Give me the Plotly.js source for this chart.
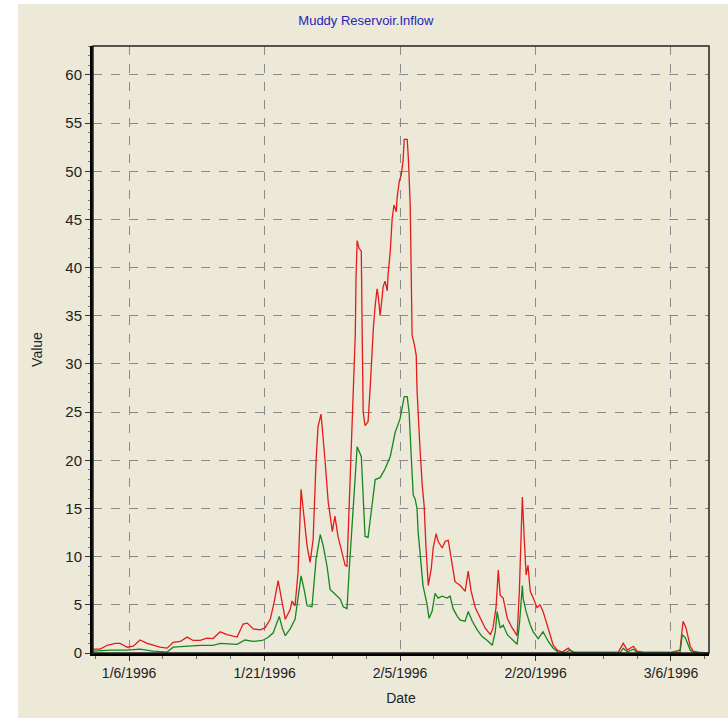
<!DOCTYPE html>
<html>
<head>
<meta charset="utf-8">
<script src="https://cdn.plot.ly/plotly-3.0.1.min.js"></script>
<style>
  html, body { margin: 0; padding: 0; background: #ffffff; width: 728px; height: 719px; overflow: hidden; }
  #chart { position: absolute; left: 18px; top: 4px; width: 710px; height: 714px; }
</style>
</head>
<body>
<div id="chart"></div>
<script>
// ---- data ----
const chartTitle = 'Muddy Reservoir.Inflow';
const xTitle = 'Date';
const yTitle = 'Value';

const redDates = [
 '1996-01-02 00:00','1996-01-02 19:00','1996-01-03 14:00','1996-01-04 11:00','1996-01-05 00:00','1996-01-05 19:00',
 '1996-01-06 11:00','1996-01-07 05:00','1996-01-08 00:00','1996-01-08 16:00','1996-01-09 10:00','1996-01-10 05:00',
 '1996-01-10 21:00','1996-01-11 16:00','1996-01-12 10:00','1996-01-13 02:00','1996-01-13 21:00','1996-01-14 15:00',
 '1996-01-15 07:00','1996-01-16 02:00','1996-01-16 20:00','1996-01-17 23:00','1996-01-18 15:00','1996-01-19 02:00',
 '1996-01-19 18:00','1996-01-20 12:00','1996-01-21 01:00','1996-01-21 15:00','1996-01-22 01:00','1996-01-22 12:00',
 '1996-01-22 23:00','1996-01-23 07:00','1996-01-23 20:00','1996-01-24 01:00','1996-01-24 09:00','1996-01-24 17:00',
 '1996-01-25 01:00','1996-01-25 06:00','1996-01-25 17:00','1996-01-26 01:00','1996-01-26 09:00','1996-01-26 17:00',
 '1996-01-26 22:00','1996-01-27 06:00','1996-01-27 12:00','1996-01-27 17:00','1996-01-28 01:00','1996-01-28 12:00',
 '1996-01-28 19:00','1996-01-29 03:00','1996-01-29 14:00','1996-01-29 22:00','1996-01-30 03:00','1996-01-30 09:00',
 '1996-01-30 14:00','1996-01-30 19:00','1996-01-31 01:00','1996-01-31 03:00','1996-01-31 06:00','1996-01-31 11:00',
 '1996-01-31 17:00','1996-01-31 19:00','1996-01-31 22:00','1996-02-01 03:00','1996-02-01 11:00','1996-02-01 17:00',
 '1996-02-01 22:00','1996-02-02 01:00','1996-02-02 06:00','1996-02-02 11:00','1996-02-02 14:00','1996-02-02 19:00',
 '1996-02-03 00:00','1996-02-03 03:00','1996-02-03 08:00','1996-02-03 14:00','1996-02-03 16:00','1996-02-03 22:00',
 '1996-02-04 03:00','1996-02-04 08:00','1996-02-04 14:00','1996-02-04 16:00','1996-02-04 22:00','1996-02-05 03:00',
 '1996-02-05 08:00','1996-02-05 11:00','1996-02-05 19:00','1996-02-05 22:00','1996-02-06 03:00','1996-02-06 06:00',
 '1996-02-06 08:00','1996-02-06 14:00','1996-02-06 19:00','1996-02-06 21:00','1996-02-07 03:00','1996-02-07 05:00',
 '1996-02-07 11:00','1996-02-07 16:00','1996-02-07 21:00','1996-02-08 03:00','1996-02-08 11:00','1996-02-08 16:00',
 '1996-02-09 00:00','1996-02-09 05:00','1996-02-09 16:00','1996-02-10 00:00','1996-02-10 08:00','1996-02-10 18:00',
 '1996-02-11 02:00','1996-02-11 16:00','1996-02-12 05:00','1996-02-12 13:00','1996-02-12 21:00','1996-02-13 08:00',
 '1996-02-13 21:00','1996-02-14 10:00','1996-02-15 00:00','1996-02-15 07:00','1996-02-15 15:00','1996-02-15 21:00',
 '1996-02-16 02:00','1996-02-16 10:00','1996-02-16 21:00','1996-02-17 10:00','1996-02-17 23:00','1996-02-18 05:00',
 '1996-02-18 10:00','1996-02-18 13:00','1996-02-18 18:00','1996-02-18 23:00','1996-02-19 04:00','1996-02-19 10:00',
 '1996-02-19 18:00','1996-02-20 04:00','1996-02-20 12:00','1996-02-20 20:00','1996-02-21 07:00','1996-02-21 15:00',
 '1996-02-21 23:00','1996-02-22 10:00','1996-02-22 23:00','1996-02-23 15:00','1996-02-24 01:00','1996-02-24 23:00',
 '1996-02-27 04:00','1996-02-29 04:00','1996-02-29 17:00','1996-03-01 04:00','1996-03-01 20:00','1996-03-02 06:00',
 '1996-03-03 03:00','1996-03-05 22:00','1996-03-07 00:00','1996-03-07 08:00','1996-03-07 16:00','1996-03-07 22:00',
 '1996-03-08 03:00','1996-03-08 11:00','1996-03-09 06:00','1996-03-10 05:00'
];
const redValues = [
 0.4,0.4,0.8,1.0,1.0,0.6,
 0.7,1.35,1.0,0.8,0.6,0.5,
 1.1,1.2,1.65,1.3,1.3,1.55,
 1.5,2.2,1.9,1.65,3.0,3.1,
 2.5,2.4,2.6,3.5,5.2,7.5,
 5.0,3.5,4.5,5.4,4.9,8.4,
 17.0,15.0,11.1,9.4,11.8,20.1,
 23.5,24.8,22.5,19.8,15.7,12.6,
 14.2,12.1,10.4,9.1,9.0,15.7,
 22.0,28.5,33.0,39.0,42.8,42.0,
 41.7,34.4,25.0,23.6,24.0,27.8,
 31.9,33.7,36.1,37.8,37.1,35.0,
 36.8,38.0,38.6,37.6,39.2,41.7,
 45.1,46.5,45.8,47.2,49.0,49.6,
 51.1,53.3,53.3,51.4,46.5,39.6,
 33.0,32.0,30.9,27.4,22.2,21.2,
 17.4,15.3,10.9,7.0,8.8,10.9,
 12.4,11.6,10.9,11.6,11.7,9.1,
 7.4,7.0,6.4,8.5,6.4,4.7,
 3.6,2.6,1.9,2.6,4.7,8.6,
 6.0,5.7,3.6,2.6,1.8,6.4,
 12.6,16.2,11.9,8.1,9.1,6.4,
 5.7,4.7,5.0,4.3,2.9,1.9,
 0.8,0.3,0.1,0.5,0.1,0.05,
 0.05,0.1,1.0,0.3,0.7,0.2,
 0.05,0.05,0.3,3.3,2.6,1.5,
 0.7,0.2,0.05,0.0
];

const greenDates = [
 '1996-01-02 00:00','1996-01-03 22:00','1996-01-05 19:00','1996-01-07 05:00','1996-01-08 16:00','1996-01-10 05:00',
 '1996-01-10 21:00','1996-01-12 10:00','1996-01-13 21:00','1996-01-15 07:00','1996-01-16 02:00','1996-01-17 23:00',
 '1996-01-18 20:00','1996-01-19 18:00','1996-01-20 18:00','1996-01-21 09:00','1996-01-21 23:00','1996-01-22 15:00',
 '1996-01-22 23:00','1996-01-23 07:00','1996-01-23 20:00','1996-01-24 09:00','1996-01-24 17:00','1996-01-25 01:00',
 '1996-01-25 09:00','1996-01-25 17:00','1996-01-26 06:00','1996-01-26 17:00','1996-01-27 04:00','1996-01-27 12:00',
 '1996-01-27 22:00','1996-01-28 06:00','1996-01-28 14:00','1996-01-29 01:00','1996-01-29 09:00','1996-01-29 17:00',
 '1996-01-30 03:00','1996-01-30 09:00','1996-01-30 17:00','1996-01-31 01:00','1996-01-31 06:00','1996-01-31 17:00',
 '1996-01-31 22:00','1996-02-01 03:00','1996-02-01 11:00','1996-02-01 22:00','1996-02-02 06:00','1996-02-02 19:00',
 '1996-02-03 08:00','1996-02-03 22:00','1996-02-04 11:00','1996-02-05 00:00','1996-02-05 06:00','1996-02-05 11:00',
 '1996-02-05 19:00','1996-02-06 00:00','1996-02-06 06:00','1996-02-06 11:00','1996-02-06 16:00','1996-02-06 21:00',
 '1996-02-07 00:00','1996-02-07 05:00','1996-02-07 13:00','1996-02-08 00:00','1996-02-08 05:00','1996-02-08 13:00',
 '1996-02-08 21:00','1996-02-09 05:00','1996-02-09 16:00','1996-02-10 05:00','1996-02-10 13:00','1996-02-10 21:00',
 '1996-02-11 08:00','1996-02-11 16:00','1996-02-12 05:00','1996-02-12 13:00','1996-02-13 00:00','1996-02-13 13:00',
 '1996-02-14 02:00','1996-02-14 16:00','1996-02-15 05:00','1996-02-15 13:00','1996-02-15 18:00','1996-02-16 02:00',
 '1996-02-16 10:00','1996-02-16 21:00','1996-02-17 10:00','1996-02-17 23:00','1996-02-18 05:00','1996-02-18 13:00',
 '1996-02-18 15:00','1996-02-18 23:00','1996-02-19 10:00','1996-02-19 18:00','1996-02-20 07:00','1996-02-20 20:00',
 '1996-02-21 10:00','1996-02-21 23:00','1996-02-22 12:00','1996-02-23 07:00','1996-02-23 20:00','1996-02-24 09:00',
 '1996-02-29 09:00','1996-02-29 17:00','1996-03-01 04:00','1996-03-01 20:00','1996-03-02 06:00','1996-03-07 00:00',
 '1996-03-07 06:00','1996-03-07 14:00','1996-03-07 22:00','1996-03-08 03:00','1996-03-08 11:00','1996-03-10 05:00'
];
const greenValues = [
 0.2,0.3,0.3,0.4,0.2,0.1,
 0.6,0.7,0.8,0.8,1.0,0.9,
 1.35,1.2,1.3,1.6,2.1,3.8,
 2.6,1.8,2.5,3.5,5.6,8.0,
 6.6,4.9,4.8,9.8,12.3,11.1,
 9.0,6.6,6.3,5.9,5.6,4.8,
 4.6,8.7,13.9,19.1,21.4,20.4,
 15.6,12.1,12.0,15.7,18.0,18.2,
 19.1,20.4,22.9,24.3,25.7,26.6,
 26.6,25.0,20.2,16.4,16.0,15.0,
 12.6,10.2,7.0,5.0,3.6,4.3,
 6.2,5.7,5.9,5.7,5.9,4.6,
 3.8,3.4,3.3,4.3,3.3,2.4,
 1.7,1.3,0.8,2.2,4.3,2.6,
 2.9,1.9,1.4,0.9,2.9,7.0,
 5.7,4.3,2.9,2.2,1.5,2.2,
 1.2,0.5,0.1,0.05,0.3,0.05,
 0.05,0.5,0.1,0.4,0.05,0.05,
 1.9,1.6,0.8,0.3,0.05,0.0
];

const xTickStart = '1996-01-06';
const xRange = ['1996-01-02 00:00', '1996-03-10 05:00'];
const yRange = [0, 63];

// ---- figure ----
const beige = '#ECE9D8';
const fontFam = 'Liberation Sans, Arial, sans-serif';
const DAY = 86400000;

const traces = [
  { x: redDates, y: redValues, type: 'scatter', mode: 'lines',
    line: { color: '#E31B1B', width: 1.3 }, hoverinfo: 'x+y', showlegend: false },
  { x: greenDates, y: greenValues, type: 'scatter', mode: 'lines',
    line: { color: '#17861F', width: 1.3 }, hoverinfo: 'x+y', showlegend: false }
];

const layout = {
  width: 710, height: 714,
  paper_bgcolor: beige, plot_bgcolor: beige,
  margin: { l: 75, r: 19, t: 42, b: 65 },
  font: { family: fontFam, size: 14, color: '#222222' },
  title: { text: chartTitle, x: 0.49, xref: 'container', xanchor: 'center',
           y: 1 - 16/714, yref: 'container', yanchor: 'middle',
           font: { family: fontFam, size: 13, color: '#2424B8' } },
  xaxis: {
    type: 'date', range: xRange, tick0: xTickStart, dtick: 15 * DAY,
    tickformat: '%-m/%-d/%Y',
    showgrid: true, gridcolor: '#8a8a8a', griddash: 'dash', gridwidth: 1,
    showline: true, linecolor: '#000000', linewidth: 3, mirror: false,
    ticks: 'outside', ticklen: 5, tickcolor: '#333333',
    minor: { dtick: 3.75 * DAY, tick0: xTickStart, ticks: 'outside', ticklen: 3, tickcolor: '#666666', showgrid: false },
    zeroline: false,
    tickfont: { family: fontFam, size: 14, color: '#222222' },
    title: { text: xTitle, standoff: 14, font: { family: fontFam, size: 14, color: '#222222' } },
    automargin: false
  },
  yaxis: {
    range: yRange, dtick: 5, tick0: 0,
    showgrid: true, gridcolor: '#8a8a8a', griddash: 'dash', gridwidth: 1,
    showline: true, linecolor: '#000000', linewidth: 3, mirror: false,
    ticks: 'outside', ticklen: 5, tickcolor: '#333333',
    minor: { dtick: 1, ticks: 'outside', ticklen: 2, tickcolor: '#777777', showgrid: false },
    zeroline: false,
    tickfont: { family: fontFam, size: 15, color: '#222222' },
    title: { text: yTitle, standoff: 20, font: { family: fontFam, size: 14, color: '#222222' } },
    automargin: false
  },
  shapes: [
    { type: 'rect', xref: 'paper', yref: 'paper', x0: 0, x1: 1, y0: 0, y1: 1,
      line: { color: '#222222', width: 1.5 }, fillcolor: 'rgba(0,0,0,0)', layer: 'above' }
  ]
};

Plotly.newPlot('chart', traces, layout, { displayModeBar: false, staticPlot: true });
</script>
</body>
</html>
